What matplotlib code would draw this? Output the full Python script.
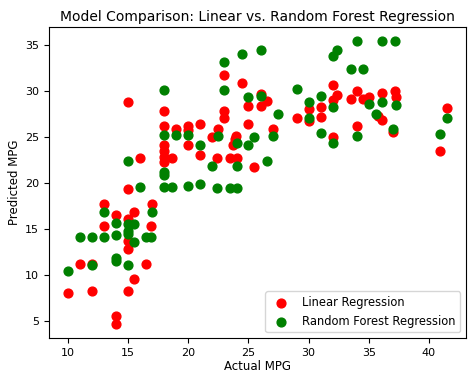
import numpy as np
import matplotlib.pyplot as plt

# actual vs predicted MPG
lr_actual = [10, 11, 12, 12, 13, 13, 14, 14, 14,
             15, 15, 15, 15, 15, 15, 15.5, 15.5, 16, 16.5, 17, 16.9,
             18, 18, 18, 18, 18, 18, 18.67, 19, 20, 20, 20, 21, 21, 22,
             22.5, 22.4, 23, 23, 23, 23.5, 23.7, 24, 23.9, 24.06, 24.5, 25, 25,
             25.44, 26, 26, 26.57, 27, 29, 30, 30, 31, 31, 32, 32, 32,
             32.35, 33.5, 34, 34, 34.5, 35, 35.8, 36.1, 36.1, 37.2, 37.3, 37.05,
             40.93, 41.5]
lr_pred = [8.0, 11.2, 11.2, 8.25, 17.7, 15.3, 16.5, 5.5, 4.65,
           28.8, 19.4, 16.1, 13.66, 12.8, 8.25, 16.85, 9.56, 22.7, 11.2, 17.7, 15.3,
           27.9, 26.2, 24.2, 23.5, 22.8, 22.3, 22.75, 25.9, 26.2, 25.8, 24.2, 26.4, 23.1, 25.0,
           25.9, 22.7, 31.76, 27.9, 27.1, 22.7, 24.2, 25.1, 24.75, 22.7, 30.86, 28.35, 26.4,
           21.8, 29.7, 28.35, 28.9, 25.9, 27.1, 28.1, 26.8, 28.3, 27.15, 30.7, 29.0, 25.05,
           29.65, 29.2, 30.0, 26.2, 29.2, 29.4, 27.3, 29.85, 26.85, 30.0, 29.4, 25.6,
           23.5, 28.2]

rf_actual = [10, 11, 12, 12, 13, 13, 14, 14, 14, 14,
             15, 15, 15, 15, 15, 15.5, 15.5, 16, 16.5, 17, 16.9,
             18, 18, 18, 18, 18, 18.67, 19, 20, 20, 21, 21, 22,
             22.5, 22.4, 23, 23, 23.5, 24.06, 24.06, 24.06, 24.5, 25, 25,
             25.44, 26, 26, 26.5, 27, 27.45, 29, 30, 30, 31, 31, 32, 32, 32,
             32.35, 33.5, 34, 34, 34.5, 35, 35.6, 36.1, 36.1, 37.2, 37.3, 37.05,
             40.93, 41.5]
rf_pred = [10.45, 14.1, 14.1, 11.1, 16.85, 14.1, 15.6, 14.3, 11.85, 11.55,
           22.4, 15.5, 14.75, 14.5, 11.1, 15.5, 13.6, 19.55, 14.1, 16.85, 14.1,
           30.1, 25.2, 21.2, 20.9, 19.55, 19.55, 25.2, 25.2, 19.65, 24.1, 19.95, 21.9,
           25.1, 19.5, 33.2, 30.1, 19.5, 24.4, 21.9, 19.5, 34.05, 29.4, 24.1,
           25.0, 34.5, 29.47, 22.4, 25.1, 27.5, 30.2, 28.86, 27.1, 29.47, 25.5, 33.8, 28.3, 24.4,
           34.5, 32.45, 35.47, 25.1, 32.45, 28.6, 27.55, 35.47, 28.8, 35.47, 28.5, 25.84,
           25.4, 27.1]

fig = plt.figure(figsize=(4.74, 3.83), dpi=100)
ax = fig.add_subplot(111)
fig.subplots_adjust(left=49/474, right=466/474, top=1-27/383, bottom=1-338/383)

ax.scatter(lr_actual, lr_pred, color='red', s=40, label='Linear Regression')
ax.scatter(rf_actual, rf_pred, color='green', s=40, label='Random Forest Regression')

ax.set_xlabel('Actual MPG', fontsize=8.5, labelpad=2)
ax.set_ylabel('Predicted MPG', fontsize=8.5, labelpad=3)
ax.set_title('Model Comparison: Linear vs. Random Forest Regression', fontsize=10, pad=4)
ax.tick_params(labelsize=8)
ax.legend(loc='lower right', fontsize=8.3)

fig.savefig('out.png', dpi=100)
